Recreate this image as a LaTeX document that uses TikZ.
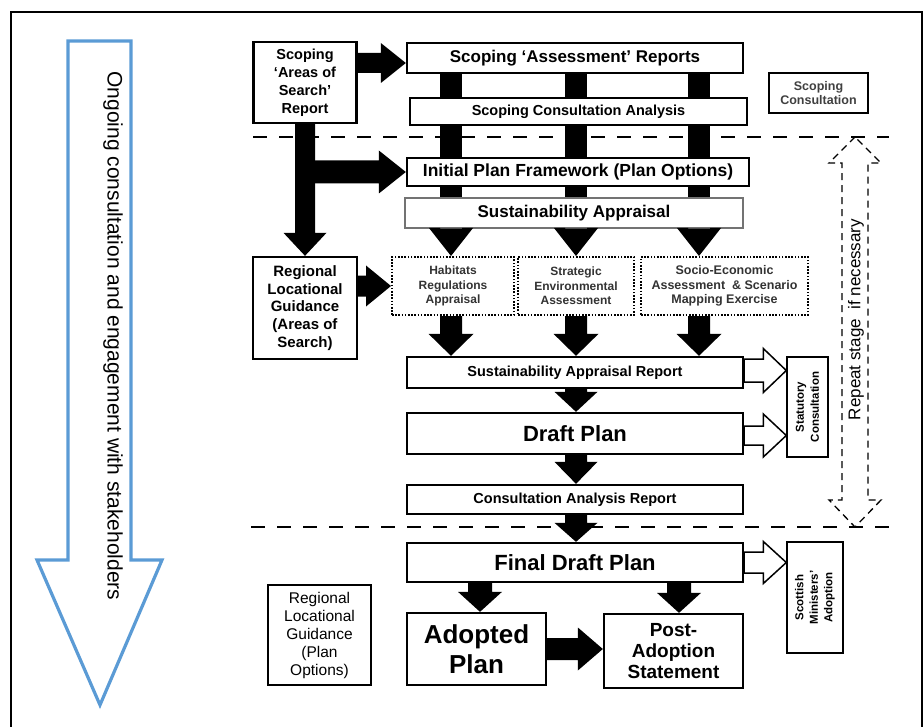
\documentclass[tikz,border=0pt]{standalone}
\usepackage{fontspec}
\setmainfont{Liberation Sans}
\usetikzlibrary{calc}
\newcommand\fs[2]{\fontsize{#1}{#2}\selectfont}
% vertical (downward) block arrow: from, to, shaft half, head half, head length
\newcommand\vblk[5]{\fill let \p1=(#1), \p2=(#2) in (\x1-#3,\y1) -- (\x1+#3,\y1) -- (\x1+#3,\y2+#5) -- (\x1+#4,\y2+#5) -- (\x1,\y2) -- (\x1-#4,\y2+#5) -- (\x1-#3,\y2+#5) -- cycle;}
% horizontal (rightward) block arrow: from, to, shaft half, head half, head length, style
\newcommand\hblk[6]{\path[#6] let \p1=(#1), \p2=(#2) in (\x1,\y1+#3) -- (\x2-#5,\y1+#3) -- (\x2-#5,\y1+#4) -- (\x2,\y1) -- (\x2-#5,\y1-#4) -- (\x2-#5,\y1-#3) -- (\x1,\y1-#3) -- cycle;}
% vertical bar: from, to, half width
\newcommand\vbar[3]{\fill let \p1=(#1), \p2=(#2) in (\x1-#3,\y1) rectangle (\x2+#3,\y2);}
\begin{document}
\begin{tikzpicture}[x=1pt,y=-1pt,
  box/.style={draw,line width=2.3pt,fill=white,inner sep=0pt,align=center},
  dotbox/.style={draw,line width=2pt,dash pattern=on 1.6pt off 1.6pt,fill=white,inner sep=0pt,align=center,text=black!80},
  thinbox/.style={draw,line width=1.4pt,fill=white,inner sep=0pt,align=center},
  sepline/.style={line width=2.5pt,dash pattern=on 14pt off 12pt},
  repline/.style={line width=1.3pt,dash pattern=on 7pt off 5pt},
  hollowarr/.style={draw,fill=white,line width=1.5pt},
  blkfill/.style={fill=black},
  bluearr/.style={draw=blueline,line width=3.2pt,line join=miter}]
\definecolor{blueline}{HTML}{5B9BD5}
\useasboundingbox (0,0) rectangle (923,727);
% frame
\draw[line width=1.5pt] (11,727) -- (11,12) -- (922,12) -- (922,727);
% blue arrow
\draw[bluearr] (68,41) -- (131,41) -- (131,560) -- (162,560) -- (100,705) -- (37,560) -- (68,560) -- cycle;
\node[rotate=-90,font=\fs{21}{24}] (ongoing) at (113,336) {Ongoing consultation and engagement with stakeholders};
% column coordinates
\coordinate (c1) at (451,0);
\coordinate (c2) at (576,0);
\coordinate (c3) at (699,0);
\coordinate (c4) at (480,0);
\coordinate (c5) at (679,0);
% dashed separators
\coordinate (d1a) at (253,137); \coordinate (d1b) at (889,137);
\coordinate (d2a) at (251,527); \coordinate (d2b) at (889,527);
\draw[sepline] (d1a) -- (d1b);
\draw[sepline] (d2a) -- (d2b);
% nodes (top)
\node[box,minimum width=336pt,minimum height=30pt,font=\bfseries\fs{17}{20}] (ssar) at (575,58) {Scoping ‘Assessment’ Reports};
\node[box,minimum width=342pt,minimum height=28pt] (ipfdummy) at (578,172) {};
\node[thinbox,draw=black!55,line width=1.2pt,minimum width=338pt,minimum height=30pt] (sadummy) at (574,213) {};
% bars behind boxes
\vbar{ssar.south -| c1}{sadummy.south -| c1}{11pt}
\vbar{ssar.south -| c2}{sadummy.south -| c2}{11pt}
\vbar{ssar.south -| c3}{sadummy.south -| c3}{11pt}
\node[box,minimum width=337pt,minimum height=27pt,font=\bfseries\fs{14.5}{17}] (sca) at (578.5,111.5) {Scoping Consultation Analysis};
\node[box,minimum width=342pt,minimum height=28pt,font=\bfseries\fs{17.5}{20}] (ipf) at (578,172) {Initial Plan Framework (Plan Options)};
\node[thinbox,draw=black!55,line width=1.2pt,minimum width=338pt,minimum height=30pt,font=\bfseries\fs{17}{20}] (sa) at (574,213) {Sustainability Appraisal};
\node[box,minimum width=103pt,minimum height=81pt,font=\bfseries\fs{14.5}{18}] (areas) at (305,82.5) {Scoping\\‘Areas of\\Search’\\Report};
\node[thinbox,minimum width=99pt,minimum height=40pt,text=black!75,font=\bfseries\fs{12.5}{14}] (scons) at (818.5,93) {Scoping\\Consultation};
\node[box,minimum width=104pt,minimum height=102pt,font=\bfseries\fs{15}{17.7}] (rlg1) at (305,308) {Regional\\Locational\\Guidance\\(Areas of\\Search)};
\node[dotbox,minimum width=122pt,minimum height=58pt,font=\bfseries\fs{12}{14.5}] (hra) at (453,286) {Habitats\\Regulations\\Appraisal};
\node[dotbox,minimum width=116pt,minimum height=58pt,font=\bfseries\fs{12}{14.5}] (sea) at (576,286) {Strategic\\Environmental\\Assessment};
\node[dotbox,minimum width=167pt,minimum height=58pt,font=\bfseries\fs{12.5}{14.5}] (sem) at (724.5,286) {Socio-Economic\\Assessment\ \ \& Scenario\\Mapping Exercise};
\node[box,minimum width=336pt,minimum height=31pt,font=\bfseries\fs{14.5}{17}] (sarep) at (575,372.5) {Sustainability Appraisal Report};
\node[thinbox,rotate=90,minimum width=100pt,minimum height=41pt,font=\bfseries\fs{11.5}{15}] (stat) at (807.5,407) {Statutory\\Consultation};
\node[box,minimum width=336pt,minimum height=41pt,font=\bfseries\fs{22}{25}] (dp) at (575,433.5) {Draft Plan};
\node[box,minimum width=336pt,minimum height=29pt,font=\bfseries\fs{14.5}{17}] (car) at (575,499.5) {Consultation Analysis Report};
\node[box,minimum width=336pt,minimum height=39pt,font=\bfseries\fs{22}{25}] (fdp) at (575,562.5) {Final Draft Plan};
\node[thinbox,rotate=90,minimum width=111pt,minimum height=56pt,font=\bfseries\fs{11.5}{14.5}] (sma) at (815,597.5) {Scottish\\Ministers’\\Adoption};
\node[box,minimum width=139pt,minimum height=72pt,font=\bfseries\fs{26}{30}] (ap) at (476.5,649) {Adopted\\Plan};
\node[box,minimum width=139pt,minimum height=74pt,font=\bfseries\fs{19}{21}] (pas) at (673.5,651) {Post-\\Adoption\\Statement};
\node[box,line width=2pt,minimum width=103pt,minimum height=100pt,font=\fs{15.5}{18}] (rlg2) at (319.5,635) {Regional\\Locational\\Guidance\\(Plan\\Options)};
% black block arrows
\hblk{areas.east |- 0,63}{ssar.west |- 0,63}{10pt}{20pt}{25pt}{blkfill}
\vblk{areas.south}{rlg1.north}{10pt}{21.5pt}{23pt}
\hblk{areas.south |- ipf.west}{ipf.west}{11.5pt}{21.5pt}{27pt}{blkfill}
\vblk{sa.south -| c1}{hra.north -| c1}{11pt}{22pt}{28pt}
\vblk{sa.south -| c2}{sea.north -| c2}{11pt}{22pt}{28pt}
\vblk{sa.south -| c3}{sem.north -| c3}{11pt}{22pt}{28pt}
\hblk{rlg1.east |- hra.west}{hra.west}{10.5pt}{20.5pt}{25pt}{blkfill}
\vblk{hra.south -| c1}{sarep.north -| c1}{11pt}{22.5pt}{22pt}
\vblk{sea.south -| c2}{sarep.north -| c2}{11pt}{22.5pt}{22pt}
\vblk{sem.south -| c3}{sarep.north -| c3}{11pt}{22.5pt}{22pt}
\vblk{sarep.south -| c2}{dp.north -| c2}{11pt}{21.5pt}{20pt}
\vblk{dp.south -| c2}{car.north -| c2}{11pt}{21.5pt}{22pt}
\vblk{car.south -| c2}{fdp.north -| c2}{11pt}{21.5pt}{19pt}
\vblk{fdp.south -| c4}{ap.north -| c4}{12pt}{22pt}{20pt}
\vblk{fdp.south -| c5}{pas.north -| c5}{12pt}{22pt}{20pt}
\hblk{ap.east |- 0,649}{pas.west |- 0,649}{11pt}{21.5pt}{25pt}{blkfill}
% hollow arrows
\hblk{sarep.east |- 0,370.5}{stat.north |- 0,370.5}{11.5pt}{22pt}{23pt}{hollowarr}
\hblk{dp.east |- 0,435.5}{stat.north |- 0,435.5}{9.5pt}{21.5pt}{23pt}{hollowarr}
\hblk{fdp.east |- 0,562.5}{sma.north |- 0,562.5}{10.5pt}{21pt}{23pt}{hollowarr}
% repeat double arrow
\coordinate (rt) at (855,137);
\coordinate (rb) at (855,527);
\draw[repline] (rt) -- (829,163) -- (842,163) -- (842,500) -- (829,500) -- (rb) -- (881,500) -- (868,500) -- (868,163) -- (881,163) -- cycle;
\node[rotate=90,font=\fs{17}{20}] (repeat) at (856,319.5) {Repeat stage\ \ if necessary};
\end{tikzpicture}
\end{document}
